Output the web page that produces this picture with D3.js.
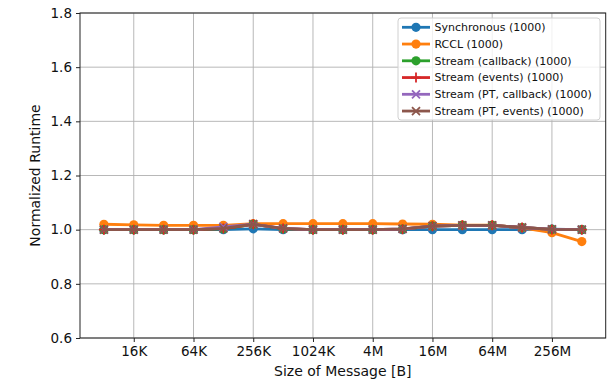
<!DOCTYPE html>
<html><head><meta charset="utf-8">
<script src="https://cdn.jsdelivr.net/npm/d3@7"></script>
<style>body{margin:0;background:#fff;} text{font-family:"DejaVu Sans",sans-serif;}</style>
</head><body><svg id="c" width="611" height="382"></svg>
<script>
const sizes = [8192,16384,32768,65536,131072,262144,524288,1048576,2097152,4194304,8388608,16777216,33554432,67108864,134217728,268435456,536870912];
const tickValues = [16384,65536,262144,1048576,4194304,16777216,67108864,268435456];
const tickLabels = ["16K","64K","256K","1024K","4M","16M","64M","256M"];
const yTicks = [0.6,0.8,1.0,1.2,1.4,1.6,1.8];
const seriesNames = ["Synchronous (1000)","RCCL (1000)","Stream (callback) (1000)","Stream (events) (1000)","Stream (PT, callback) (1000)","Stream (PT, events) (1000)"];
const synchronous = [1.0,1.0,1.0,1.0,1.0,1.003,1.0,1.0,1.0,1.0,1.0,1.0,1.0,1.0,1.0,1.002,1.0];
const rccl = [1.02,1.018,1.016,1.016,1.016,1.022,1.022,1.022,1.022,1.022,1.021,1.02,1.017,1.017,1.007,0.989,0.956];
const streamCallback = [1.0,1.0,1.0,1.0,1.003,1.02,1.003,1.0,1.0,1.0,1.002,1.013,1.016,1.016,1.008,1.001,1.0];
const streamEvents = [1.0,1.0,1.0,1.0,1.004,1.02,1.004,1.0,1.0,1.0,1.002,1.013,1.016,1.016,1.008,1.001,1.0];
const streamPTCallback = [1.0,1.0,1.0,1.0,1.01,1.02,1.005,1.0,1.0,1.0,1.003,1.013,1.016,1.016,1.008,1.001,1.0];
const streamPTEvents = [1.0,1.0,1.0,1.0,1.005,1.02,1.005,1.0,1.0,1.0,1.003,1.013,1.016,1.016,1.008,1.001,1.0];
const colors = ["#1f77b4","#ff7f0e","#2ca02c","#d62728","#9467bd","#8c564b"];
const markers = ["o","o","o","+","x","x"];
const allValues = [synchronous,rccl,streamCallback,streamEvents,streamPTCallback,streamPTEvents];

const svg = d3.select("#c");
const L=80, R=605.7, T=13, B=338;
const x = d3.scaleLog().base(2).domain([Math.pow(2,12.2),Math.pow(2,29.8)]).range([L,R]);
const y = d3.scaleLinear().domain([0.6,1.8]).range([B,T]);

// grid
const g = svg.append("g");
g.selectAll("line.vx").data(tickValues).join("line")
  .attr("x1",d=>x(d)).attr("x2",d=>x(d)).attr("y1",T).attr("y2",B)
  .attr("stroke","#b0b0b0").attr("stroke-width",0.9);
g.selectAll("line.hy").data(yTicks).join("line")
  .attr("x1",L).attr("x2",R).attr("y1",d=>y(d)).attr("y2",d=>y(d))
  .attr("stroke","#b0b0b0").attr("stroke-width",0.9);

// axes
const xAxis = d3.axisBottom(x).tickValues(tickValues).tickFormat((d,i)=>tickLabels[i]).tickSize(4).tickPadding(4);
const yAxis = d3.axisLeft(y).tickValues(yTicks).tickFormat(d3.format(".1f")).tickSize(4).tickPadding(4);
const xa = svg.append("g").attr("transform",`translate(0,${B})`).call(xAxis);
const ya = svg.append("g").attr("transform",`translate(${L},0)`).call(yAxis);
[xa,ya].forEach(a=>{a.select(".domain").remove();a.selectAll("line").attr("stroke","#222");a.selectAll("text").attr("font-size",13.5).attr("fill","#111").attr("font-family","DejaVu Sans");});

// series
function drawMarker(sel, m, c){
  if(m==="o"){ sel.append("circle").attr("r",4.6).attr("fill",c); }
  else if(m==="+"){ sel.append("path").attr("d","M-5,0H5M0,-5V5").attr("stroke",c).attr("stroke-width",1.8); }
  else { sel.append("path").attr("d","M-4,-4L4,4M-4,4L4,-4").attr("stroke",c).attr("stroke-width",1.8); }
}
const plot = svg.append("g");
allValues.forEach((vals,si)=>{
  const line = d3.line().x((d,i)=>x(sizes[i])).y(d=>y(d));
  plot.append("path").datum(vals).attr("d",line).attr("fill","none").attr("stroke",colors[si]).attr("stroke-width",2.8);
  vals.forEach((v,i)=>{
    const mg = plot.append("g").attr("transform",`translate(${x(sizes[i])},${y(v)})`);
    drawMarker(mg, markers[si], colors[si]);
  });
});

// frame
svg.append("rect").attr("x",L).attr("y",T).attr("width",R-L).attr("height",B-T).attr("fill","none").attr("stroke","#222").attr("stroke-width",1);

// labels
svg.append("text").attr("x",(L+R)/2).attr("y",376).attr("text-anchor","middle").attr("font-size",14).attr("fill","#111").text("Size of Message [B]");
svg.append("text").attr("transform",`translate(40,${(T+B)/2}) rotate(-90)`).attr("text-anchor","middle").attr("font-size",14).attr("fill","#111").text("Normalized Runtime");

// legend
const lg = svg.append("g");
lg.append("rect").attr("x",398).attr("y",18).attr("width",202).attr("height",102).attr("rx",3)
  .attr("fill","#fff").attr("fill-opacity",0.8).attr("stroke","#d0d0d0");
seriesNames.forEach((n,i)=>{
  const yy = 27.3 + i*16.75;
  lg.append("line").attr("x1",402).attr("x2",430).attr("y1",yy).attr("y2",yy).attr("stroke",colors[i]).attr("stroke-width",2.8);
  const mg = lg.append("g").attr("transform",`translate(416,${yy})`);
  drawMarker(mg, markers[i], colors[i]);
  lg.append("text").attr("x",434.5).attr("y",yy).attr("dy","0.35em").attr("font-size",11).attr("fill","#111").text(n);
});
</script></body></html>
